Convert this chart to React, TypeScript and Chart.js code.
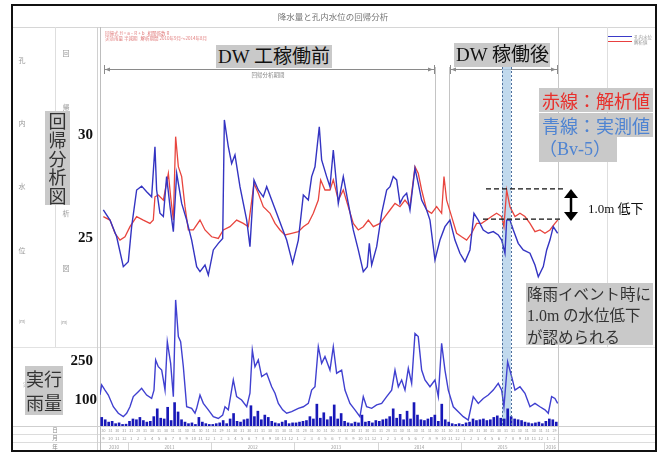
import React, { useEffect, useRef } from "react";
import { Chart, registerables } from "chart.js";
Chart.register(...registerables);

// x values are months counted from 2010-09-01
const measured: [number, number][] = [
  [0.48,26.36],[1.44,25.87],[2.4,25.06],[3.36,23.61],[4.08,23.85],[4.56,25.55],[5.28,27.33],[6.0,27.52],[6.72,27.25],[7.44,27.0],
  [7.92,29.43],[8.16,27.33],[8.64,26.2],[9.13,26.04],[9.6,27.98],[10.09,26.52],[10.57,25.31],[11.05,28.14],[11.77,26.68],[12.49,25.87],
  [13.21,24.9],[13.93,23.61],[14.41,23.37],[15.13,23.69],[15.61,23.2],[16.33,24.42],[17.05,24.74],[17.68,24.98],[17.92,30.73],[18.49,29.43],
  [18.97,28.62],[19.45,29.03],[20.17,27.49],[21.14,25.87],[21.61,24.58],[22.19,27.82],[22.81,27.33],[23.53,27.0],[24.02,27.49],[24.74,26.84],
  [25.46,26.2],[26.18,25.55],[26.9,24.9],[27.76,23.77],[28.58,24.9],[29.3,27.09],[30.02,26.84],[30.5,27.98],[30.98,28.46],[31.6,30.4],
  [31.94,28.79],[32.66,27.98],[33.14,27.49],[33.62,29.27],[34.34,26.68],[35.06,27.98],[35.78,26.68],[36.5,25.39],[37.22,24.42],[37.94,23.37],
  [38.52,23.61],[38.81,24.74],[39.15,23.69],[39.87,24.58],[40.59,26.2],[41.31,27.33],[41.79,27.49],[42.26,27.98],[42.75,27.82],[43.23,26.68],
  [43.7,27.0],[44.19,27.17],[44.67,26.36],[45.39,28.38],[45.86,27.65],[46.35,26.84],[47.07,26.36],[47.55,25.87],[48.27,23.93],[48.99,24.9],
  [49.71,25.55],[50.43,25.87],[51.15,24.9],[51.87,24.26],[52.59,23.85],[53.31,24.42],[53.89,26.2],[54.51,25.87],[55.23,25.39],[55.95,25.23],
  [56.67,25.31],[57.39,25.15],[57.88,24.9],[58.36,24.26],[58.6,25.87],[59.08,25.87],[59.56,25.39],[60.27,24.74],[60.99,24.42],[61.96,24.26],
  [62.68,23.69],[63.16,23.12],[63.88,23.61],[64.37,24.42],[64.84,24.9],[65.32,25.55],[65.95,25.23],
];

const analyzed: [number, number][] = [
  [0.48,26.04],[1.44,25.87],[2.16,25.23],[2.88,24.9],[3.6,25.06],[4.32,25.55],[5.28,26.04],[6.24,25.87],[7.2,25.71],[7.68,25.87],
  [7.92,27.0],[8.4,27.09],[9.13,26.84],[9.85,28.14],[10.18,27.0],[10.57,25.87],[10.9,29.92],[11.29,28.46],[11.77,27.98],[12.25,26.52],
  [12.73,25.39],[13.45,25.39],[14.41,25.87],[15.13,25.39],[16.09,25.06],[17.05,24.98],[17.77,25.39],[18.73,25.55],[19.69,25.87],[20.65,25.71],
  [21.37,25.55],[22.19,27.65],[22.81,27.17],[23.53,26.52],[24.5,26.2],[25.22,25.71],[25.94,25.39],[26.66,25.15],[27.62,25.23],[28.58,25.31],
  [29.3,25.55],[30.02,25.71],[30.74,26.2],[31.46,26.84],[31.8,27.82],[32.42,27.33],[33.14,27.33],[33.62,27.82],[34.34,26.84],[35.06,27.33],
  [35.78,26.52],[36.5,25.71],[37.22,25.39],[37.94,25.55],[38.67,25.87],[39.39,25.55],[40.35,25.71],[41.07,26.04],[41.79,26.36],[42.51,26.68],
  [43.23,26.52],[43.95,26.84],[44.67,26.52],[45.39,28.46],[45.86,28.14],[46.35,27.33],[47.07,26.36],[47.79,26.2],[48.51,26.52],[49.23,26.2],
  [49.57,27.98],[49.95,26.84],[50.67,26.04],[51.39,25.23],[52.11,25.06],[52.83,24.9],[53.55,25.23],[54.27,25.71],[54.99,25.71],[55.71,25.87],
  [56.43,26.04],[57.15,26.2],[57.88,26.04],[58.21,25.55],[58.6,27.33],[59.08,26.52],[59.8,26.04],[60.52,26.2],[61.24,26.04],[61.96,25.71],
  [62.68,25.31],[63.4,25.39],[64.12,25.23],[64.84,25.39],[65.56,25.71],[65.95,25.87],
];

const effectiveRain: [number, number][] = [
  [0,120],[0.24,158],[0.72,138],[1.2,119],[1.92,74],[2.64,49],[3.36,36],[3.84,49],[4.32,74],[4.8,113],
  [5.52,132],[6.0,145],[6.72,119],[7.44,106],[7.78,138],[8.02,254],[8.4,228],[8.89,215],[9.13,177],[9.37,138],
  [9.7,324],[10.18,241],[10.57,113],[10.9,485],[11.29,344],[11.62,324],[12.01,228],[12.49,74],[13.21,68],[13.69,49],
  [13.93,68],[14.41,119],[14.89,87],[15.61,62],[16.33,36],[17.05,29],[17.68,42],[18.01,74],[18.49,62],[19.21,177],
  [19.69,113],[20.41,100],[21.14,74],[21.61,126],[21.95,292],[22.33,228],[22.81,254],[23.3,190],[24.02,203],[24.74,151],
  [25.22,126],[25.7,87],[26.32,62],[26.9,49],[27.62,55],[28.58,68],[29.3,74],[30.02,87],[30.5,138],[30.98,151],
  [31.46,305],[31.94,241],[32.42,267],[33.14,215],[33.62,305],[34.1,203],[34.82,215],[35.3,138],[36.02,87],[36.74,62],
  [37.46,36],[37.94,113],[38.42,74],[39.15,68],[39.87,81],[40.59,87],[41.31,113],[42.03,138],[42.51,215],[42.99,151],
  [43.47,177],[43.95,138],[44.43,222],[44.91,164],[45.39,356],[45.86,344],[46.35,215],[46.83,177],[47.55,151],[48.27,177],
  [48.75,113],[49.23,318],[49.71,215],[50.19,138],[50.91,74],[51.63,55],[52.35,36],[53.07,23],[53.79,113],[54.51,87],
  [55.23,106],[55.95,119],[56.67,138],[57.39,164],[57.88,138],[58.21,74],[58.74,247],[59.32,190],[59.8,138],[60.52,151],
  [61.24,126],[61.96,74],[62.68,87],[63.4,74],[64.12,62],[64.6,49],[65.08,113],[65.56,106],[65.95,87],
];

// daily rain, one value per half month from 2010-09
const dailyRain: number[] = [
  33,24,15,18,9,12,6,7,
  18,27,24,33,21,15,18,36,66,30,27,72,21,90,54,24,15,9,12,6,33,15,9,6,
  6,9,12,21,9,27,48,18,15,24,27,78,36,57,24,42,33,18,12,9,15,21,9,12,
  12,15,18,21,36,27,84,30,51,24,36,81,27,48,18,12,9,15,12,42,15,18,12,21,
  18,24,27,36,66,30,45,24,57,27,90,42,24,21,27,33,42,18,84,24,15,9,6,9,
  6,12,15,27,21,24,27,21,24,33,39,30,27,66,36,27,24,21,15,12,9,12,15,9,
  18,27,24,15,
];

const levelTicks = [25, 30];
const rainTicks = [100, 250];
const yearLabels = ["2010", "2011", "2012", "2013", "2014", "2015", "2016"];
const yearBounds = [0, 4, 16, 28, 40, 52, 64, 66];
const firstMonth = 9;
const eventRange = [57.93, 59.22];
const dropLevels = [27.38, 25.92];

const SERIF = "'Liberation Serif','Noto Sans CJK JP',serif";
const GOTHIC = "'Noto Sans CJK JP','Noto Sans',sans-serif";

function daysIn(year: number, month: number) {
  return new Date(year, month, 0).getDate();
}

const framePlugin = {
  id: "frame",
  beforeDraw(chart: any) {
    const ctx: CanvasRenderingContext2D = chart.ctx;
    const ca = chart.chartArea;
    const xs = chart.scales.x;
    ctx.save();
    ctx.fillStyle = "#fff";
    ctx.fillRect(0, 0, chart.width, chart.height);

    const hl = (y: number, x1: number, x2: number, c = "#d6d6d6") => {
      ctx.strokeStyle = c; ctx.lineWidth = 1; ctx.beginPath();
      ctx.moveTo(x1, y + 0.5); ctx.lineTo(x2, y + 0.5); ctx.stroke();
    };
    const vl = (x: number, y1: number, y2: number, c = "#d6d6d6") => {
      ctx.strokeStyle = c; ctx.lineWidth = 1; ctx.beginPath();
      ctx.moveTo(x + 0.5, y1); ctx.lineTo(x + 0.5, y2); ctx.stroke();
    };
    hl(27, 12, 656);
    hl(347, 12, 656, "#e2e2e2");
    hl(Math.round(ca.bottom), 12, 656, "#cfcfcf");
    hl(434, 12, 656, "#dcdcdc");
    hl(442, 12, 656, "#dcdcdc");
    vl(55, 27, 347, "#dedede");
    vl(97, 27, 451, "#d0d0d0");
    vl(Math.round(ca.left), 27, 451, "#bdbdbd");
    vl(Math.round(ca.right), 27, 451, "#c8c8c8");
    vl(607, 27, 347, "#dedede");
    vl(435, 67, Math.round(ca.bottom), "#c4c4c4");
    vl(449, 67, Math.round(ca.bottom), "#c4c4c4");

    // title
    ctx.fillStyle = "#777";
    ctx.font = `8.5px ${GOTHIC}`;
    ctx.textAlign = "center"; ctx.textBaseline = "middle";
    ctx.fillText("降水量と孔内水位の回帰分析", 333, 17);

    // left column captions
    ctx.fillStyle = "#999";
    ctx.font = `7px ${GOTHIC}`;
    ["孔", "内", "水", "位"].forEach((c, i) => ctx.fillText(c, 22, [60, 123, 186, 250][i]));
    ["回", "帰", "析", "図"].forEach((c, i) => ctx.fillText(c, 66, [53, 107, 213, 268][i]));
    ctx.font = `4.5px ${GOTHIC}`;
    ctx.fillText("(m)", 22, 321);
    ctx.fillText("(m)", 64, 322);
    ctx.fillText("実効雨量", 32, 384);

    // small regression text
    ctx.fillStyle = "#e07a7a";
    ctx.font = `4.5px ${GOTHIC}`;
    ctx.textAlign = "left";
    ctx.fillText("回帰式 H = a・R + b   相関係数 R", 105, 33);
    ctx.fillText("実効雨量 半減期   解析期間 2010年9月～2014年8月", 105, 38.5);

    // legend
    ctx.lineWidth = 1;
    ctx.strokeStyle = "#3a3ac8"; ctx.beginPath(); ctx.moveTo(608, 36.5); ctx.lineTo(632, 36.5); ctx.stroke();
    ctx.strokeStyle = "#e84040"; ctx.beginPath(); ctx.moveTo(608, 41.5); ctx.lineTo(632, 41.5); ctx.stroke();
    ctx.fillStyle = "#999"; ctx.font = `4.5px ${GOTHIC}`;
    ctx.fillText("孔内水位", 634, 37);
    ctx.fillText("解析値", 634, 42);

    // table rows
    ctx.fillStyle = "#888";
    ctx.textAlign = "center";
    ctx.font = `5.5px ${GOTHIC}`;
    ctx.fillText("日", 55, 430);
    ctx.fillText("月", 55, 438);
    ctx.fillText("年", 55, 447);
    const total = yearBounds[yearBounds.length - 1];
    for (let k = 0; k < total; k++) {
      const mIdx = (firstMonth - 1 + k) % 12;
      const yr = 2010 + Math.floor((firstMonth - 1 + k) / 12);
      const cx = xs.getPixelForValue(k + 0.5);
      ctx.fillStyle = "#999";
      ctx.font = `3.6px ${GOTHIC}`;
      ctx.fillText(String(daysIn(yr, mIdx + 1)), cx, 430.5);
      ctx.font = `4.2px ${GOTHIC}`;
      ctx.fillText(String(mIdx + 1), cx, 438.5);
    }
    ctx.font = `4.5px ${GOTHIC}`;
    for (let i = 0; i < yearLabels.length; i++) {
      const a = xs.getPixelForValue(yearBounds[i]);
      const b = xs.getPixelForValue(yearBounds[i + 1]);
      ctx.fillStyle = "#999";
      ctx.fillText(yearLabels[i], (a + b) / 2, 447);
      if (i > 0) vl(Math.round(a), 442, 451, "#d6d6d6");
    }

    // brackets
    const bracket = (x1: number, x2: number, y: number) => {
      ctx.strokeStyle = "#8a8a8a"; ctx.fillStyle = "#8a8a8a"; ctx.lineWidth = 1;
      ctx.beginPath(); ctx.moveTo(x1, y + 0.5); ctx.lineTo(x2, y + 0.5); ctx.stroke();
      vl(x1, y - 4, y + 5, "#8a8a8a"); vl(x2, y - 4, y + 5, "#8a8a8a");
      ctx.beginPath(); ctx.moveTo(x1 + 1, y + 0.5); ctx.lineTo(x1 + 6, y - 1.5); ctx.lineTo(x1 + 6, y + 2.5); ctx.fill();
      ctx.beginPath(); ctx.moveTo(x2 - 1, y + 0.5); ctx.lineTo(x2 - 6, y - 1.5); ctx.lineTo(x2 - 6, y + 2.5); ctx.fill();
    };
    bracket(104, 434, 69);
    bracket(450, 557, 69);
    ctx.fillStyle = "#888"; ctx.font = `5.5px ${GOTHIC}`;
    ctx.fillText("回帰分析期間", 268, 75);
    ctx.restore();
  },
  beforeDatasetsDraw(chart: any) {
    const ctx: CanvasRenderingContext2D = chart.ctx;
    const xs = chart.scales.x;
    const ca = chart.chartArea;
    const a = xs.getPixelForValue(eventRange[0]);
    const b = xs.getPixelForValue(eventRange[1]);
    ctx.save();
    ctx.fillStyle = "rgba(178,208,232,0.8)";
    ctx.fillRect(a, 67, b - a, ca.bottom - 67);
    ctx.restore();
  },
  afterDatasetsDraw(chart: any) {
    const ctx: CanvasRenderingContext2D = chart.ctx;
    const xs = chart.scales.x;
    const yl = chart.scales.yLevel;
    const yr = chart.scales.yRain;
    const ca = chart.chartArea;
    ctx.save();
    ctx.strokeStyle = "#4d6f9c"; ctx.lineWidth = 1; ctx.setLineDash([2, 2]);
    for (const v of eventRange) {
      const x = Math.round(xs.getPixelForValue(v)) + 0.5;
      ctx.beginPath(); ctx.moveTo(x, 67); ctx.lineTo(x, ca.bottom); ctx.stroke();
    }
    ctx.strokeStyle = "#111"; ctx.lineWidth = 1.2; ctx.setLineDash([5, 3]);
    const yTop = yl.getPixelForValue(dropLevels[0]);
    const yBot = yl.getPixelForValue(dropLevels[1]);
    ctx.beginPath(); ctx.moveTo(486, yTop); ctx.lineTo(565, yTop); ctx.stroke();
    ctx.beginPath(); ctx.moveTo(483, yBot); ctx.lineTo(563, yBot); ctx.stroke();
    ctx.setLineDash([]);
    const ax = 571;
    ctx.strokeStyle = "#000"; ctx.fillStyle = "#000"; ctx.lineWidth = 2.5;
    ctx.beginPath(); ctx.moveTo(ax, yTop + 6); ctx.lineTo(ax, yBot - 6); ctx.stroke();
    ctx.beginPath(); ctx.moveTo(ax, yTop); ctx.lineTo(ax - 7, yTop + 9); ctx.lineTo(ax + 7, yTop + 9); ctx.closePath(); ctx.fill();
    ctx.beginPath(); ctx.moveTo(ax, yBot + 2); ctx.lineTo(ax - 7, yBot - 7); ctx.lineTo(ax + 7, yBot - 7); ctx.closePath(); ctx.fill();

    ctx.fillStyle = "#111";
    ctx.font = `bold 15px ${SERIF}`;
    ctx.textAlign = "right"; ctx.textBaseline = "middle";
    for (const t of levelTicks) ctx.fillText(String(t), 93, yl.getPixelForValue(t));
    for (const t of rainTicks) ctx.fillText(String(t), t === 100 ? 97 : 93, yr.getPixelForValue(t));
    ctx.restore();

    ctx.save();
    ctx.strokeStyle = "#111"; ctx.lineWidth = 2;
    ctx.strokeRect(12, 5, 644, 446);
    ctx.restore();
  },
};

const box: React.CSSProperties = {
  position: "absolute",
  background: "#c9c9c9",
  whiteSpace: "nowrap",
  overflow: "visible",
};

export default function App() {
  const ref = useRef<HTMLCanvasElement>(null);
  useEffect(() => {
    const chart = new Chart(ref.current as HTMLCanvasElement, {
      data: {
        datasets: [
          {
            type: "line", label: "実測値", data: measured.map(([x, y]) => ({ x, y })),
            yAxisID: "yLevel", borderColor: "#3434c2", borderWidth: 1.4, pointRadius: 0, tension: 0, order: 1,
          },
          {
            type: "line", label: "解析値", data: analyzed.map(([x, y]) => ({ x, y })),
            yAxisID: "yLevel", borderColor: "#e8453e", borderWidth: 1.3, pointRadius: 0, tension: 0, order: 2,
          },
          {
            type: "line", label: "実効雨量", data: effectiveRain.map(([x, y]) => ({ x, y })),
            yAxisID: "yRain", borderColor: "#4040d0", borderWidth: 1.4, pointRadius: 0, tension: 0, order: 3,
          },
          {
            type: "bar", label: "日雨量", data: dailyRain.map((y, i) => ({ x: 0.25 + i * 0.5, y })),
            yAxisID: "yRain", backgroundColor: "#1818b8", barThickness: 2, order: 4,
          },
        ],
      } as any,
      options: {
        responsive: false,
        animation: false,
        maintainAspectRatio: false,
        layout: { padding: { left: 100, right: 107, top: 30, bottom: 27 } },
        plugins: { legend: { display: false }, tooltip: { enabled: false } },
        scales: {
          x: { type: "linear", min: 0, max: 66, display: false, offset: false },
          yLevel: { type: "linear", min: 15.874, max: 35.097, display: false },
          yRain: { type: "linear", min: 0, max: 1523, display: false },
        },
      } as any,
      plugins: [framePlugin],
    });
    return () => chart.destroy();
  }, []);

  return (
    <div style={{ position: "absolute", left: 0, top: 0, width: 665, height: 453, background: "#fff", overflow: "hidden" }}>
      <canvas ref={ref} width={665} height={453} style={{ display: "block", width: 665, height: 453 }} />
      <div style={{ ...box, left: 216, top: 45, width: 116, height: 23, font: `19px ${SERIF}`, lineHeight: "23px", color: "#111", paddingLeft: 2, boxSizing: "border-box" }}>DW 工稼働前</div>
      <div style={{ ...box, left: 454, top: 43, width: 96, height: 24, font: `19px ${SERIF}`, lineHeight: "24px", color: "#111", paddingLeft: 2, boxSizing: "border-box" }}>DW 稼働後</div>
      <div style={{ ...box, left: 539, top: 88, width: 114, height: 24, font: `18px ${GOTHIC}`, lineHeight: "24px", color: "#e8302c", paddingLeft: 3, boxSizing: "border-box" }}>赤線：解析値</div>
      <div style={{ ...box, left: 539, top: 113, width: 114, height: 24, font: `18px ${GOTHIC}`, lineHeight: "24px", color: "#4f84d2", paddingLeft: 3, boxSizing: "border-box" }}>青線：実測値</div>
      <div style={{ ...box, left: 539, top: 137, width: 78, height: 25, font: `18px ${SERIF}`, lineHeight: "25px", color: "#4f84d2", paddingLeft: 0, boxSizing: "border-box" }}>（Bv-5）</div>
      <div style={{ ...box, left: 45, top: 111, width: 25, height: 94, font: `18px ${GOTHIC}`, lineHeight: "18.8px", color: "#333", textAlign: "center", whiteSpace: "normal" }}>
        {"回帰分析図".split("").map((c, i) => <div key={i}>{c}</div>)}
      </div>
      <div style={{ ...box, left: 25, top: 366, width: 38, height: 49, font: `18px ${GOTHIC}`, lineHeight: "24px", color: "#333", textAlign: "center", whiteSpace: "normal" }}>
        <div>実行</div><div>雨量</div>
      </div>
      <div style={{ ...box, left: 526, top: 283, width: 127, height: 62, font: `15.5px ${GOTHIC}`, lineHeight: "20.7px", color: "#333", paddingLeft: 1, boxSizing: "border-box", whiteSpace: "normal" }}>
        <div>降雨イベント時に</div>
        <div><span style={{ fontFamily: SERIF, fontSize: 16 }}>1.0m</span> の水位低下</div>
        <div>が認められる</div>
      </div>
      <div style={{ position: "absolute", left: 588, top: 201, font: `13px ${SERIF}`, lineHeight: "16px", color: "#111", whiteSpace: "nowrap" }}>1.0m 低下</div>
    </div>
  );
}
